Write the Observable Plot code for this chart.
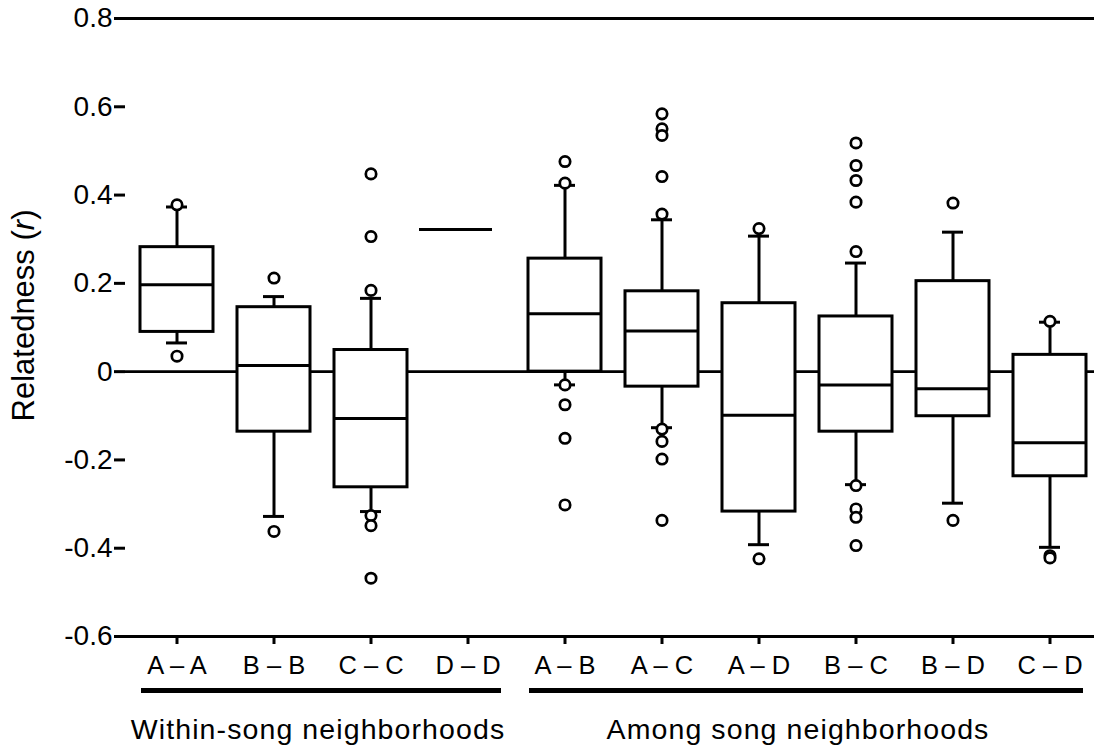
<!DOCTYPE html>
<html>
<head>
<meta charset="utf-8">
<script src="https://cdn.jsdelivr.net/npm/d3@7"></script>
<script src="https://cdn.jsdelivr.net/npm/@observablehq/plot@0.6"></script>
<style>
  html, body { margin: 0; padding: 0; background: #fff; overflow: hidden; }
  #chart svg { display: block; max-width: none; }
</style>
</head>
<body>
<div id="chart"></div>
<script>
// ---- data ----
const categories = ["A – A", "B – B", "C – C", "D – D", "A – B", "A – C", "A – D", "B – C", "B – D", "C – D"];
const groupOf = [0, 0, 0, 0, 1, 1, 1, 1, 1, 1];
const groupNames = ["Within-song neighborhoods", "Among song neighborhoods"];
const whiskerLow  = [0.065, -0.328, -0.317, null, -0.030, -0.127, -0.392, -0.256, -0.298, -0.398];
const q1          = [0.090, -0.136, -0.262, 0.322, 0.000, -0.034, -0.317, -0.136, -0.101, -0.237];
const median      = [0.197,  0.014, -0.106, 0.322, 0.131,  0.092, -0.099, -0.030, -0.039, -0.161];
const q3          = [0.282,  0.146,  0.049, 0.322, 0.256,  0.182,  0.155,  0.125,  0.205,  0.038];
const whiskerHigh = [0.373,  0.170,  0.166, null, 0.422,  0.344,  0.307,  0.246,  0.316,  0.112];
const outliers = [
  [0.378, 0.035],
  [0.212, -0.362],
  [0.448, 0.306, 0.184, -0.326, -0.349, -0.468],
  [],
  [0.476, 0.427, -0.030, -0.075, -0.151, -0.302],
  [0.584, 0.550, 0.535, 0.442, 0.357, -0.130, -0.158, -0.198, -0.337],
  [0.324, -0.424],
  [0.518, 0.467, 0.433, 0.384, 0.272, -0.258, -0.311, -0.330, -0.394],
  [0.382, -0.337],
  [0.114, -0.417, -0.422]
];
const yTicks = [-0.6, -0.4, -0.2, 0, 0.2, 0.4, 0.6, 0.8];
const yLabel = "Relatedness (r)";

// ---- tables built from the arrays ----
const stats = categories.map((cat, i) => ({
  cat, lo: whiskerLow[i], q1: q1[i], med: median[i], q3: q3[i], hi: whiskerHigh[i]
}));
const boxes = stats.filter(d => d.lo != null);
const singles = stats.filter(d => d.lo == null);
const points = categories.flatMap((cat, i) => outliers[i].map(v => ({cat, v})));
const yMin = d3.min(yTicks), yMax = d3.max(yTicks);
const underline = categories.map((cat, i) => {
  const g = groupOf[i];
  const first = i === 0 || groupOf[i - 1] !== g;
  const last = i === categories.length - 1 || groupOf[i + 1] !== g;
  return {cat, role: first ? "first" : last ? "last" : "mid"};
});
const fmt = d => d === 0 ? "0" : d.toFixed(1);
const ink = "#000";

const chart = Plot.plot({
  width: 1094,
  height: 753,
  marginTop: 18,
  marginBottom: 117,
  marginLeft: 125,
  marginRight: 0,
  style: {
    fontFamily: "'Liberation Sans', Arial, Helvetica, sans-serif",
    fontSize: "25px",
    color: ink,
    background: "white"
  },
  x: {type: "band", domain: categories, range: [124, 1102], padding: 0, label: null},
  y: {domain: [yMin, yMax], label: null},
  marks: [
    Plot.ruleY([0], {stroke: ink, strokeWidth: 2.6}),
    Plot.ruleY([yMax, yMin], {stroke: ink, strokeWidth: 3}),
    Plot.axisY({ticks: yTicks, tickFormat: fmt, tickSize: 11, tickPadding: 2, strokeWidth: 3, fontSize: 28, line: true, label: null}),
    Plot.axisX({tickSize: 8, tickPadding: 11, strokeWidth: 3, fontSize: 25.5, label: null}),
    // whiskers
    Plot.ruleX(boxes, {x: "cat", y1: "q3", y2: "hi", stroke: ink, strokeWidth: 3}),
    Plot.ruleX(boxes, {x: "cat", y1: "lo", y2: "q1", stroke: ink, strokeWidth: 3}),
    Plot.tickY(boxes, {x: "cat", y: "hi", stroke: ink, strokeWidth: 3, insetLeft: 38, insetRight: 38}),
    Plot.tickY(boxes, {x: "cat", y: "lo", stroke: ink, strokeWidth: 3, insetLeft: 38, insetRight: 38}),
    // boxes
    Plot.barY(boxes, {x: "cat", y1: "q1", y2: "q3", fill: "white", stroke: ink, strokeWidth: 3, insetLeft: 12, insetRight: 12}),
    Plot.tickY(boxes, {x: "cat", y: "med", stroke: ink, strokeWidth: 3, insetLeft: 12, insetRight: 12}),
    Plot.tickY(singles, {x: "cat", y: "med", stroke: ink, strokeWidth: 3, insetLeft: 0, insetRight: 24}),
    // outliers
    Plot.dot(points, {x: "cat", y: "v", r: 5.2, fill: "white", stroke: ink, strokeWidth: 2.7}),
    // group underlines
    Plot.tickY(underline.filter(d => d.role === "first"), {x: "cat", y: () => yMin, dy: 54, stroke: ink, strokeWidth: 5, insetLeft: 13}),
    Plot.tickY(underline.filter(d => d.role === "mid"), {x: "cat", y: () => yMin, dy: 54, stroke: ink, strokeWidth: 5}),
    Plot.tickY(underline.filter(d => d.role === "last"), {x: "cat", y: () => yMin, dy: 54, stroke: ink, strokeWidth: 5, insetRight: 15}),
    // group labels
    Plot.text([groupNames[0]], {x: () => categories[1], frameAnchor: "bottom", text: d => d, dx: 44, dy: 102, fontSize: 28.5, fill: ink}),
    Plot.text([groupNames[1]], {x: () => categories[6], frameAnchor: "bottom", text: d => d, dx: 39, dy: 102, fontSize: 28.5, fill: ink}),
    // y label
    Plot.text([yLabel], {frameAnchor: "left", textAnchor: "middle", text: d => d, rotate: -90, dx: -101, dy: -12, fontSize: 31, fill: ink})
  ]
});

document.getElementById("chart").appendChild(chart);

// post-process: italic r in the y label, spacing of group labels
const svg = d3.select(chart);
svg.selectAll("text").each(function () {
  const t = this.textContent;
  if (t === yLabel) {
    const el = d3.select(this);
    el.text(null);
    el.append("tspan").text("Relatedness (");
    el.append("tspan").attr("font-style", "italic").text("r");
    el.append("tspan").text(")");
  } else if (groupNames.includes(t)) {
    d3.select(this).style("letter-spacing", "1.1px");
  }
});
</script>
</body>
</html>
